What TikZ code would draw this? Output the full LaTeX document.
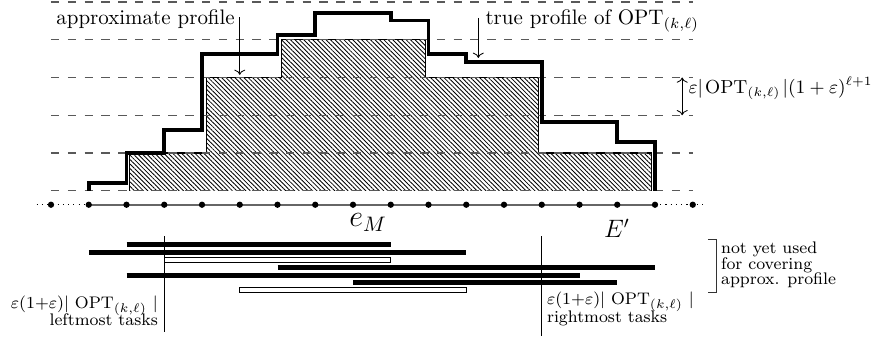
\documentclass[tikz,border=0pt]{standalone}
\usetikzlibrary{patterns.meta,arrows.meta}
\begin{document}
\begin{tikzpicture}[x=18pt,y=18pt,
  grid/.style={black!65, line width=0.6pt, dash pattern=on 4pt off 4pt},
  thickprof/.style={line width=1.9pt, line join=miter},
  hatchfill/.style={pattern={Lines[angle=-45,distance=1.5pt,line width=0.4pt]}},
  hatchedge/.style={draw=black, line width=0.5pt},
  axisline/.style={black!60, line width=0.8pt},
  axisdots/.style={black, dotted, line width=0.5pt},
  dotnode/.style={circle, fill=black, inner sep=0pt, minimum size=3pt},
  taskbar/.style={line width=2.4pt},
  hollowbar/.style={draw=black, fill=white, line width=0.5pt},
  lbl/.style={inner sep=0pt},
  smalllbl/.style={inner sep=0pt, font=\footnotesize},
  thinline/.style={line width=0.5pt},
  pointer/.style={->, line width=0.4pt}
]
\useasboundingbox (-1.351,-3.862) rectangle (21.987,5.053);

% hatched approximate profile
\fill[hatchfill] (2.09,0) -- (2.09,1) -- (4.12,1) -- (4.12,3) -- (6.11,3) -- (6.11,4) -- (9.91,4) -- (9.91,3) -- (12.91,3) -- (12.91,1) -- (15.91,1) -- (15.91,0) -- cycle;
\draw[hatchedge] (2.09,0) -- (2.09,1) -- (4.12,1) -- (4.12,3) -- (6.11,3) -- (6.11,4) -- (9.91,4) -- (9.91,3) -- (12.91,3) -- (12.91,1) -- (15.91,1) -- (15.91,0);

% dashed levels
\foreach \k in {0,...,5} \draw[grid] (0,\k) -- (17,\k);

% true profile
\draw[thickprof] (1,0) -- (1,0.2) -- (2,0.2) -- (2,1) -- (3,1) -- (3,1.6) -- (4,1.6) -- (4,3.62) -- (6,3.62) -- (6,4.13) -- (7,4.13) -- (7,4.7) -- (9,4.7) -- (9,4.51) -- (10,4.51) -- (10,3.62) -- (11,3.62) -- (11,3.42) -- (13,3.42) -- (13,1.82) -- (15,1.82) -- (15,1.3) -- (16,1.3) -- (16,0);

% axis
\coordinate (axl) at (-0.38,-0.37);
\coordinate (axr) at (17.38,-0.37);
\foreach \i in {0,...,17} \coordinate (p\i) at (\i,-0.37);
\draw[axisline] (p1) -- (p16);
\draw[axisdots] (axl) -- (p0) -- (p1);
\draw[axisdots] (p16) -- (p17) -- (axr);
\foreach \i in {0,...,17} \node[dotnode] (d\i) at (p\i) {};

\node[lbl, anchor=base] (eM) at (8.40,-0.95) {\Large $e_M$};
\node[lbl, anchor=base] (Ep) at (14.99,-1.24) {\large $E'$};

% top labels and pointers
\node[lbl, anchor=base east] (approx) at (4.88,4.40) {approximate profile};
\coordinate (approxA) at (5,4.6);
\coordinate (approxB) at (5,3.07);
\draw[pointer] (approxA) -- (approxB);

\node[lbl, anchor=base west] (true) at (11.50,4.40) {true profile of $\mathrm{OPT}_{(k,\ell)}$};
\coordinate (trueA) at (11.32,4.58);
\coordinate (trueB) at (11.32,3.52);
\draw[pointer] (trueA) -- (trueB);

\coordinate (hA) at (16.72,3);
\coordinate (hB) at (16.72,2);
\draw[<->, line width=0.4pt] (hA) -- (hB);
\node[lbl, anchor=base west, font=\fontsize{9}{11}\selectfont] (hlabel) at (16.88,2.58) {$\varepsilon|\mkern2mu\mathrm{OPT}_{(k,\ell)}\mkern2mu|(1+\varepsilon)^{\ell+1}$};

% tasks
\draw[taskbar] (2,-1.43) -- (9,-1.43);
\draw[taskbar] (1,-1.63) -- (11,-1.63);
\draw[hollowbar] (3,-1.89) rectangle (9,-1.77);
\draw[taskbar] (6,-2.04) -- (16,-2.04);
\draw[taskbar] (2,-2.24) -- (14,-2.24);
\draw[taskbar] (8,-2.44) -- (15,-2.44);
\draw[hollowbar] (5,-2.69) rectangle (11,-2.57);

% separators
\coordinate (vl1) at (3,-1.2);
\coordinate (vl2) at (3,-3.75);
\coordinate (vr1) at (13,-1.2);
\coordinate (vr2) at (13,-3.86);
\draw[thinline] (vl1) -- (vl2);
\draw[thinline] (vr1) -- (vr2);

\node[smalllbl, anchor=base east] (lt1) at (2.84,-3.13) {$\varepsilon(1{+}\varepsilon)|$ $\mathrm{OPT}_{(k,\ell)}$ $|$};
\node[smalllbl, anchor=base east] (lt2) at (2.84,-3.58) {leftmost tasks};
\node[smalllbl, anchor=base west] (rt1) at (13.13,-3.02) {$\varepsilon(1{+}\varepsilon)|$ $\mathrm{OPT}_{(k,\ell)}$ $|$};
\node[smalllbl, anchor=base west] (rt2) at (13.13,-3.48) {rightmost tasks};

% bracket
\coordinate (b1) at (17.40,-1.30);
\coordinate (b2) at (17.62,-1.30);
\coordinate (b3) at (17.62,-2.69);
\coordinate (b4) at (17.40,-2.69);
\draw[thinline, black!80] (b1) -- (b2) -- (b3) -- (b4);
\node[smalllbl, anchor=base west] (n1) at (17.74,-1.67) {not yet used};
\node[smalllbl, anchor=base west] (n2) at (17.74,-2.09) {for covering};
\node[smalllbl, anchor=base west] (n3) at (17.74,-2.49) {approx. profile};
\end{tikzpicture}
\end{document}
